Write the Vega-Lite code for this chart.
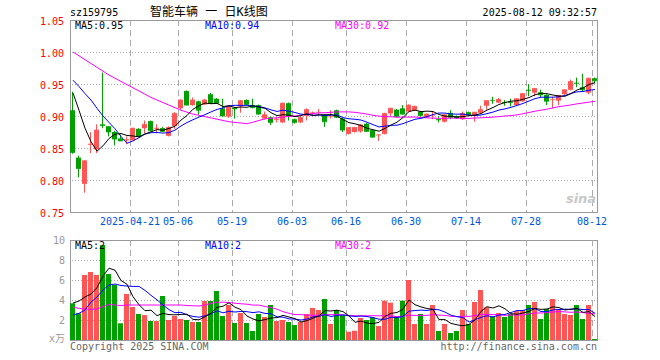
{
"$schema":"https://vega.github.io/schema/vega-lite/v6.json",
"width":528,"height":320,
"autosize":{"type":"none"},
"padding":{"left":70,"top":20,"right":62,"bottom":20},
"background":"white",
"config":{"view":{"stroke":null},"text":{"font":"DejaVu Sans Mono","fontSize":10}},
"data":{"values":[
{"d":"2025-04-07","o":0.909,"h":0.938,"l":0.841,"c":0.843,"v":3.67,"m5":0.936,"m10":0.956,"m30":1.0,"v5":3.7,"v10":2.5,"v30":3.27},
{"d":"2025-04-08","o":0.835,"h":0.838,"l":0.804,"c":0.818,"v":2.67,"m5":0.909,"m10":0.946,"m30":0.994,"v5":3.9,"v10":2.67,"v30":3.17},
{"d":"2025-04-09","o":0.794,"h":0.831,"l":0.78,"c":0.83,"v":6.5,"m5":0.881,"m10":0.935,"m30":0.988,"v5":4.3,"v10":3.0,"v30":3.08},
{"d":"2025-04-10","o":0.855,"h":0.875,"l":0.842,"c":0.856,"v":6.8,"m5":0.86,"m10":0.925,"m30":0.982,"v5":4.6,"v10":3.8,"v30":3.07},
{"d":"2025-04-11","o":0.848,"h":0.887,"l":0.842,"c":0.878,"v":6.5,"m5":0.845,"m10":0.912,"m30":0.976,"v5":5.23,"v10":4.3,"v30":3.1},
{"d":"2025-04-14","o":0.887,"h":0.968,"l":0.881,"c":0.885,"v":9.5,"m5":0.8534,"m10":0.9,"m30":0.97,"v5":6.39,"v10":5.0,"v30":3.35},
{"d":"2025-04-15","o":0.884,"h":0.884,"l":0.868,"c":0.875,"v":6.6,"m5":0.8648,"m10":0.89,"m30":0.964,"v5":7.18,"v10":5.5,"v30":3.55},
{"d":"2025-04-16","o":0.875,"h":0.877,"l":0.854,"c":0.864,"v":5.5,"m5":0.8716,"m10":0.88,"m30":0.959,"v5":6.98,"v10":5.6,"v30":3.5},
{"d":"2025-04-17","o":0.865,"h":0.871,"l":0.861,"c":0.861,"v":1.67,"m5":0.8726,"m10":0.868,"m30":0.954,"v5":5.95,"v10":5.45,"v30":3.45},
{"d":"2025-04-18","o":0.862,"h":0.868,"l":0.856,"c":0.863,"v":4.6,"m5":0.8696,"m10":0.8573,"m30":0.949,"v5":5.57,"v10":5.4,"v30":3.5},
{"d":"2025-04-21","o":0.862,"h":0.881,"l":0.862,"c":0.881,"v":3.3,"m5":0.8688,"m10":0.8611,"m30":0.944,"v5":4.33,"v10":5.36,"v30":3.5},
{"d":"2025-04-22","o":0.88,"h":0.881,"l":0.867,"c":0.868,"v":2.6,"m5":0.8674,"m10":0.8661,"m30":0.939,"v5":3.53,"v10":5.36,"v30":3.5},
{"d":"2025-04-23","o":0.881,"h":0.893,"l":0.873,"c":0.887,"v":2.5,"m5":0.872,"m10":0.8718,"m30":0.934,"v5":2.93,"v10":4.96,"v30":3.5},
{"d":"2025-04-24","o":0.892,"h":0.893,"l":0.876,"c":0.877,"v":1.9,"m5":0.8752,"m10":0.8739,"m30":0.929,"v5":2.98,"v10":4.47,"v30":3.5},
{"d":"2025-04-25","o":0.88,"h":0.887,"l":0.873,"c":0.881,"v":1.9,"m5":0.8788,"m10":0.8742,"m30":0.925,"v5":2.44,"v10":4.01,"v30":3.5},
{"d":"2025-04-28","o":0.881,"h":0.883,"l":0.875,"c":0.876,"v":4.4,"m5":0.8778,"m10":0.8733,"m30":0.921,"v5":2.66,"v10":3.5,"v30":3.5},
{"d":"2025-04-29","o":0.869,"h":0.884,"l":0.868,"c":0.882,"v":2.0,"m5":0.8806,"m10":0.874,"m30":0.917,"v5":2.54,"v10":3.04,"v30":3.5},
{"d":"2025-04-30","o":0.884,"h":0.906,"l":0.88,"c":0.904,"v":2.4,"m5":0.884,"m10":0.878,"m30":0.913,"v5":2.52,"v10":2.73,"v30":3.5},
{"d":"2025-05-06","o":0.912,"h":0.926,"l":0.91,"c":0.925,"v":2.1,"m5":0.8936,"m10":0.8844,"m30":0.909,"v5":2.56,"v10":2.77,"v30":3.5},
{"d":"2025-05-07","o":0.939,"h":0.94,"l":0.917,"c":0.917,"v":2.0,"m5":0.9008,"m10":0.8898,"m30":0.906,"v5":2.58,"v10":2.51,"v30":3.45},
{"d":"2025-05-08","o":0.917,"h":0.929,"l":0.916,"c":0.925,"v":1.8,"m5":0.9106,"m10":0.8942,"m30":0.903,"v5":2.06,"v10":2.36,"v30":3.42},
{"d":"2025-05-09","o":0.923,"h":0.924,"l":0.902,"c":0.909,"v":1.8,"m5":0.916,"m10":0.8983,"m30":0.901,"v5":2.02,"v10":2.28,"v30":3.4},
{"d":"2025-05-12","o":0.918,"h":0.927,"l":0.917,"c":0.925,"v":3.9,"m5":0.9202,"m10":0.9021,"m30":0.899,"v5":2.32,"v10":2.42,"v30":3.5},
{"d":"2025-05-13","o":0.934,"h":0.936,"l":0.919,"c":0.92,"v":3.9,"m5":0.9192,"m10":0.9064,"m30":0.897,"v5":2.68,"v10":2.62,"v30":3.65},
{"d":"2025-05-14","o":0.927,"h":0.928,"l":0.919,"c":0.92,"v":4.9,"m5":0.9198,"m10":0.9103,"m30":0.895,"v5":3.26,"v10":2.92,"v30":3.78},
{"d":"2025-05-15","o":0.912,"h":0.927,"l":0.899,"c":0.9,"v":2.4,"m5":0.9148,"m10":0.9127,"m30":0.893,"v5":3.38,"v10":2.72,"v30":3.78},
{"d":"2025-05-16","o":0.899,"h":0.916,"l":0.897,"c":0.915,"v":3.5,"m5":0.916,"m10":0.916,"m30":0.891,"v5":3.72,"v10":2.87,"v30":3.75},
{"d":"2025-05-19","o":0.913,"h":0.914,"l":0.896,"c":0.911,"v":1.7,"m5":0.9132,"m10":0.9167,"m30":0.89,"v5":3.28,"v10":2.8,"v30":3.68},
{"d":"2025-05-20","o":0.915,"h":0.925,"l":0.905,"c":0.924,"v":2.7,"m5":0.914,"m10":0.9166,"m30":0.889,"v5":3.04,"v10":2.86,"v30":3.62},
{"d":"2025-05-21","o":0.925,"h":0.926,"l":0.916,"c":0.918,"v":1.7,"m5":0.9136,"m10":0.9167,"m30":0.8879,"v5":2.4,"v10":2.83,"v30":3.58},
{"d":"2025-05-22","o":0.917,"h":0.927,"l":0.912,"c":0.913,"v":0.9,"m5":0.9162,"m10":0.9155,"m30":0.8903,"v5":2.1,"v10":2.74,"v30":3.49},
{"d":"2025-05-23","o":0.917,"h":0.918,"l":0.902,"c":0.903,"v":2.6,"m5":0.9138,"m10":0.9149,"m30":0.8931,"v5":1.92,"v10":2.82,"v30":3.49},
{"d":"2025-05-26","o":0.896,"h":0.907,"l":0.895,"c":0.902,"v":2.3,"m5":0.912,"m10":0.9126,"m30":0.8955,"v5":2.04,"v10":2.66,"v30":3.35},
{"d":"2025-05-27","o":0.898,"h":0.899,"l":0.886,"c":0.89,"v":3.5,"m5":0.9052,"m10":0.9096,"m30":0.8966,"v5":2.2,"v10":2.62,"v30":3.24},
{"d":"2025-05-28","o":0.894,"h":0.898,"l":0.89,"c":0.895,"v":1.9,"m5":0.9006,"m10":0.9071,"m30":0.8972,"v5":2.24,"v10":2.32,"v30":3.08},
{"d":"2025-05-29","o":0.89,"h":0.921,"l":0.889,"c":0.92,"v":2.0,"m5":0.902,"m10":0.9091,"m30":0.8984,"v5":2.46,"v10":2.28,"v30":2.83},
{"d":"2025-05-30","o":0.92,"h":0.921,"l":0.893,"c":0.9,"v":1.8,"m5":0.9014,"m10":0.9076,"m30":0.8992,"v5":2.3,"v10":2.11,"v30":2.67},
{"d":"2025-06-03","o":0.895,"h":0.896,"l":0.888,"c":0.89,"v":1.5,"m5":0.899,"m10":0.9055,"m30":0.9001,"v5":2.14,"v10":2.09,"v30":2.54},
{"d":"2025-06-04","o":0.89,"h":0.899,"l":0.889,"c":0.898,"v":1.8,"m5":0.9006,"m10":0.9029,"m30":0.9013,"v5":1.8,"v10":2.0,"v30":2.54},
{"d":"2025-06-05","o":0.9,"h":0.912,"l":0.893,"c":0.91,"v":2.6,"m5":0.9036,"m10":0.9021,"m30":0.9029,"v5":1.94,"v10":2.09,"v30":2.48},
{"d":"2025-06-06","o":0.904,"h":0.907,"l":0.902,"c":0.905,"v":3.2,"m5":0.9006,"m10":0.9013,"m30":0.9037,"v5":2.18,"v10":2.32,"v30":2.47},
{"d":"2025-06-09","o":0.906,"h":0.911,"l":0.902,"c":0.906,"v":3.0,"m5":0.9018,"m10":0.9016,"m30":0.9049,"v5":2.42,"v10":2.36,"v30":2.49},
{"d":"2025-06-10","o":0.902,"h":0.902,"l":0.883,"c":0.891,"v":4.1,"m5":0.902,"m10":0.9005,"m30":0.9051,"v5":2.94,"v10":2.54,"v30":2.54},
{"d":"2025-06-11","o":0.899,"h":0.909,"l":0.896,"c":0.899,"v":1.6,"m5":0.9022,"m10":0.9014,"m30":0.9058,"v5":2.9,"v10":2.35,"v30":2.53},
{"d":"2025-06-12","o":0.909,"h":0.91,"l":0.897,"c":0.898,"v":3.0,"m5":0.8998,"m10":0.9017,"m30":0.9064,"v5":2.98,"v10":2.46,"v30":2.57},
{"d":"2025-06-13","o":0.896,"h":0.897,"l":0.875,"c":0.878,"v":2.5,"m5":0.8944,"m10":0.8975,"m30":0.9064,"v5":2.84,"v10":2.51,"v30":2.5},
{"d":"2025-06-16","o":0.872,"h":0.882,"l":0.871,"c":0.882,"v":0.83,"m5":0.8896,"m10":0.8957,"m30":0.9064,"v5":2.41,"v10":2.41,"v30":2.46},
{"d":"2025-06-17","o":0.875,"h":0.883,"l":0.874,"c":0.882,"v":0.93,"m5":0.8878,"m10":0.8949,"m30":0.9057,"v5":1.77,"v10":2.36,"v30":2.42},
{"d":"2025-06-18","o":0.876,"h":0.887,"l":0.874,"c":0.886,"v":2.2,"m5":0.8852,"m10":0.8937,"m30":0.9044,"v5":1.89,"v10":2.4,"v30":2.42},
{"d":"2025-06-19","o":0.888,"h":0.889,"l":0.875,"c":0.876,"v":2.0,"m5":0.8808,"m10":0.8903,"m30":0.903,"v5":1.69,"v10":2.34,"v30":2.42},
{"d":"2025-06-20","o":0.878,"h":0.879,"l":0.866,"c":0.867,"v":2.27,"m5":0.8786,"m10":0.8865,"m30":0.9011,"v5":1.65,"v10":2.24,"v30":2.43},
{"d":"2025-06-23","o":0.87,"h":0.872,"l":0.861,"c":0.8705,"v":1.4,"m5":0.8762,"m10":0.8829,"m30":0.8998,"v5":1.76,"v10":2.08,"v30":2.42},
{"d":"2025-06-24","o":0.872,"h":0.905,"l":0.871,"c":0.904,"v":3.93,"m5":0.8806,"m10":0.8842,"m30":0.8991,"v5":2.36,"v10":2.07,"v30":2.42},
{"d":"2025-06-25","o":0.904,"h":0.913,"l":0.9,"c":0.912,"v":3.73,"m5":0.8858,"m10":0.8855,"m30":0.8988,"v5":2.67,"v10":2.28,"v30":2.42},
{"d":"2025-06-26","o":0.91,"h":0.911,"l":0.898,"c":0.899,"v":2.4,"m5":0.8904,"m10":0.8856,"m30":0.8981,"v5":2.75,"v10":2.22,"v30":2.33},
{"d":"2025-06-27","o":0.912,"h":0.917,"l":0.902,"c":0.903,"v":3.93,"m5":0.8976,"m10":0.8881,"m30":0.8982,"v5":3.08,"v10":2.36,"v30":2.38},
{"d":"2025-06-30","o":0.907,"h":0.918,"l":0.906,"c":0.917,"v":6.0,"m5":0.907,"m10":0.8916,"m30":0.8983,"v5":4.0,"v10":2.88,"v30":2.47},
{"d":"2025-07-01","o":0.909,"h":0.916,"l":0.908,"c":0.915,"v":1.6,"m5":0.9092,"m10":0.8949,"m30":0.8984,"v5":3.53,"v10":2.95,"v30":2.46},
{"d":"2025-07-02","o":0.907,"h":0.908,"l":0.899,"c":0.9005,"v":2.6,"m5":0.9068,"m10":0.8963,"m30":0.8976,"v5":3.31,"v10":2.99,"v30":2.46},
{"d":"2025-07-03","o":0.898,"h":0.904,"l":0.897,"c":0.903,"v":1.6,"m5":0.9076,"m10":0.899,"m30":0.8971,"v5":3.15,"v10":2.95,"v30":2.46},
{"d":"2025-07-04","o":0.9,"h":0.908,"l":0.895,"c":0.9005,"v":3.5,"m5":0.907,"m10":0.9023,"m30":0.8967,"v5":3.06,"v10":3.07,"v30":2.54},
{"d":"2025-07-07","o":0.895,"h":0.9,"l":0.89,"c":0.894,"v":0.9,"m5":0.9024,"m10":0.9047,"m30":0.8964,"v5":2.04,"v10":3.02,"v30":2.49},
{"d":"2025-07-08","o":0.891,"h":0.902,"l":0.89,"c":0.902,"v":1.6,"m5":0.8998,"m10":0.9045,"m30":0.8964,"v5":2.04,"v10":2.79,"v30":2.46},
{"d":"2025-07-09","o":0.905,"h":0.909,"l":0.895,"c":0.898,"v":0.7,"m5":0.8994,"m10":0.9031,"m30":0.8967,"v5":1.66,"v10":2.48,"v30":2.37},
{"d":"2025-07-10","o":0.9,"h":0.901,"l":0.896,"c":0.897,"v":0.9,"m5":0.8982,"m10":0.9029,"m30":0.8967,"v5":1.52,"v10":2.33,"v30":2.34},
{"d":"2025-07-11","o":0.895,"h":0.907,"l":0.894,"c":0.904,"v":3.0,"m5":0.899,"m10":0.903,"m30":0.8962,"v5":1.42,"v10":2.24,"v30":2.37},
{"d":"2025-07-14","o":0.906,"h":0.907,"l":0.901,"c":0.902,"v":1.6,"m5":0.9006,"m10":0.9015,"m30":0.8963,"v5":1.56,"v10":1.8,"v30":2.36},
{"d":"2025-07-15","o":0.9,"h":0.906,"l":0.891,"c":0.906,"v":3.8,"m5":0.9014,"m10":0.9006,"m30":0.8968,"v5":2.0,"v10":2.02,"v30":2.44},
{"d":"2025-07-16","o":0.905,"h":0.916,"l":0.904,"c":0.91,"v":5.0,"m5":0.9038,"m10":0.9016,"m30":0.8972,"v5":2.86,"v10":2.26,"v30":2.55},
{"d":"2025-07-17","o":0.916,"h":0.925,"l":0.91,"c":0.924,"v":3.27,"m5":0.9092,"m10":0.9037,"m30":0.8977,"v5":3.33,"v10":2.43,"v30":2.57},
{"d":"2025-07-18","o":0.925,"h":0.93,"l":0.919,"c":0.9245,"v":2.33,"m5":0.9132,"m10":0.9061,"m30":0.8983,"v5":3.2,"v10":2.31,"v30":2.54},
{"d":"2025-07-21","o":0.921,"h":0.928,"l":0.92,"c":0.926,"v":2.7,"m5":0.918,"m10":0.9093,"m30":0.899,"v5":3.42,"v10":2.49,"v30":2.53},
{"d":"2025-07-22","o":0.922,"h":0.925,"l":0.916,"c":0.921,"v":2.3,"m5":0.921,"m10":0.9112,"m30":0.9,"v5":3.12,"v10":2.56,"v30":2.47},
{"d":"2025-07-23","o":0.922,"h":0.927,"l":0.915,"c":0.921,"v":2.6,"m5":0.9232,"m10":0.9135,"m30":0.9007,"v5":2.64,"v10":2.75,"v30":2.5},
{"d":"2025-07-24","o":0.917,"h":0.927,"l":0.916,"c":0.927,"v":2.9,"m5":0.9238,"m10":0.9165,"m30":0.9017,"v5":2.57,"v10":2.95,"v30":2.5},
{"d":"2025-07-25","o":0.923,"h":0.936,"l":0.922,"c":0.935,"v":3.0,"m5":0.926,"m10":0.9196,"m30":0.9036,"v5":2.7,"v10":2.95,"v30":2.52},
{"d":"2025-07-28","o":0.941,"h":0.95,"l":0.931,"c":0.94,"v":3.5,"m5":0.9288,"m10":0.9234,"m30":0.9055,"v5":2.86,"v10":3.14,"v30":2.61},
{"d":"2025-07-29","o":0.9365,"h":0.944,"l":0.931,"c":0.943,"v":3.8,"m5":0.9332,"m10":0.9271,"m30":0.9075,"v5":3.16,"v10":3.14,"v30":2.7},
{"d":"2025-07-30","o":0.937,"h":0.941,"l":0.929,"c":0.933,"v":2.1,"m5":0.9356,"m10":0.9294,"m30":0.9091,"v5":3.06,"v10":2.85,"v30":2.7},
{"d":"2025-07-31","o":0.933,"h":0.934,"l":0.917,"c":0.923,"v":3.1,"m5":0.9348,"m10":0.9293,"m30":0.9107,"v5":3.1,"v10":2.83,"v30":2.74},
{"d":"2025-08-01","o":0.925,"h":0.93,"l":0.912,"c":0.9255,"v":4.1,"m5":0.9328,"m10":0.9294,"m30":0.9126,"v5":3.32,"v10":3.01,"v30":2.8},
{"d":"2025-08-04","o":0.924,"h":0.933,"l":0.917,"c":0.932,"v":3.1,"m5":0.9312,"m10":0.93,"m30":0.9147,"v5":3.24,"v10":3.05,"v30":2.85},
{"d":"2025-08-05","o":0.934,"h":0.941,"l":0.933,"c":0.941,"v":2.6,"m5":0.9308,"m10":0.932,"m30":0.9159,"v5":3.0,"v10":3.08,"v30":2.81},
{"d":"2025-08-06","o":0.941,"h":0.957,"l":0.94,"c":0.954,"v":2.5,"m5":0.935,"m10":0.9353,"m30":0.9173,"v5":3.08,"v10":3.07,"v30":2.77},
{"d":"2025-08-07","o":0.952,"h":0.96,"l":0.945,"c":0.951,"v":3.5,"m5":0.9406,"m10":0.9377,"m30":0.919,"v5":3.16,"v10":3.13,"v30":2.8},
{"d":"2025-08-08","o":0.945,"h":0.966,"l":0.938,"c":0.941,"v":2.1,"m5":0.9438,"m10":0.9383,"m30":0.9203,"v5":2.76,"v10":3.04,"v30":2.74},
{"d":"2025-08-11","o":0.9365,"h":0.96,"l":0.934,"c":0.959,"v":3.5,"m5":0.9492,"m10":0.9402,"m30":0.9217,"v5":2.84,"v10":3.04,"v30":2.66},
{"d":"2025-08-12","o":0.959,"h":0.96,"l":0.951,"c":0.955,"v":0.1,"m5":0.952,"m10":0.9414,"m30":0.923,"v5":2.34,"v10":2.67,"v30":2.61}
]},
"layer":[
 {"layer":[
  {"transform":[{"filter":"datum.d == '2025-04-07'"}],"mark":{"type":"rule","color":"#aaaaaa","strokeDash":[1,2],"yOffset":0.5},"encoding":{"y":{"datum":0.8,"type":"quantitative","scale":{"domain":[0.55,1.05],"zero":false,"nice":false},"axis":null}}},
  {"transform":[{"filter":"datum.d == '2025-04-07'"}],"mark":{"type":"rule","color":"#aaaaaa","strokeDash":[1,2],"yOffset":0.5},"encoding":{"y":{"datum":0.85,"type":"quantitative","scale":{"domain":[0.55,1.05],"zero":false,"nice":false},"axis":null}}},
  {"transform":[{"filter":"datum.d == '2025-04-07'"}],"mark":{"type":"rule","color":"#aaaaaa","strokeDash":[1,2],"yOffset":0.5},"encoding":{"y":{"datum":0.9,"type":"quantitative","scale":{"domain":[0.55,1.05],"zero":false,"nice":false},"axis":null}}},
  {"transform":[{"filter":"datum.d == '2025-04-07'"}],"mark":{"type":"rule","color":"#aaaaaa","strokeDash":[1,2],"yOffset":0.5},"encoding":{"y":{"datum":0.95,"type":"quantitative","scale":{"domain":[0.55,1.05],"zero":false,"nice":false},"axis":null}}},
  {"transform":[{"filter":"datum.d == '2025-04-07'"}],"mark":{"type":"rule","color":"#aaaaaa","strokeDash":[1,2],"yOffset":0.5},"encoding":{"y":{"datum":1.0,"type":"quantitative","scale":{"domain":[0.55,1.05],"zero":false,"nice":false},"axis":null}}},
  {"transform":[{"filter":"datum.d == '2025-04-07'"}],"mark":{"type":"rule","color":"#999999","yOffset":0.5},"encoding":{"y":{"datum":1.05,"type":"quantitative","scale":{"domain":[0.55,1.05],"zero":false,"nice":false},"axis":null}}},
  {"transform":[{"filter":"datum.d == '2025-04-07'"}],"mark":{"type":"rule","color":"#999999","yOffset":0.5},"encoding":{"y":{"datum":0.75,"type":"quantitative","scale":{"domain":[0.55,1.05],"zero":false,"nice":false},"axis":null}}},
  {"transform":[{"filter":{"field":"d","oneOf":["2025-04-21","2025-05-06","2025-05-19","2025-06-03","2025-06-16","2025-06-30","2025-07-14","2025-07-28","2025-08-12"]}}],
   "mark":{"type":"rule","color":"#aaaaaa","strokeDash":[6,4],"strokeWidth":1,"xOffset":0.5},
   "encoding":{"x":{"field":"d","type":"ordinal","bandPosition":0,"scale":{"type":"band","paddingInner":0,"paddingOuter":0},"axis":null},
    "y":{"datum":1.05,"type":"quantitative","scale":{"domain":[0.55,1.05],"zero":false,"nice":false},"axis":null},"y2":{"datum":0.75}}},
  {"transform":[{"filter":"datum.d == '2025-04-07'"}],
   "mark":{"type":"rule","color":"#999999","strokeWidth":1,"xOffset":0.5},
   "encoding":{"x":{"field":"d","type":"ordinal","bandPosition":0,"scale":{"type":"band","paddingInner":0,"paddingOuter":0},"axis":null},
    "y":{"datum":1.05,"type":"quantitative","scale":{"domain":[0.55,1.05],"zero":false,"nice":false},"axis":null},"y2":{"datum":0.75}}},
  {"transform":[{"filter":"datum.d == '2025-08-12'"}],
   "mark":{"type":"rule","color":"#999999","strokeWidth":1,"xOffset":-0.5},
   "encoding":{"x":{"field":"d","type":"ordinal","bandPosition":1,"scale":{"type":"band","paddingInner":0,"paddingOuter":0},"axis":null},
    "y":{"datum":1.05,"type":"quantitative","scale":{"domain":[0.55,1.05],"zero":false,"nice":false},"axis":null},"y2":{"datum":0.75}}},
  {"transform":[{"filter":"datum.d == '2025-08-07'"}],
   "mark":{"type":"text","align":"center","baseline":"middle","dx":4,"color":"#c8c8c8","font":"DejaVu Sans","fontSize":13,"fontWeight":"bold","fontStyle":"italic"},
   "encoding":{"x":{"field":"d","type":"ordinal","scale":{"type":"band","paddingInner":0,"paddingOuter":0},"axis":null},"y":{"datum":0.7703,"type":"quantitative","scale":{"domain":[0.55,1.05],"zero":false,"nice":false},"axis":null},"text":{"value":"sina"}}},
  {"mark":{"type":"rule","strokeWidth":1,"xOffset":-0.5},
   "encoding":{"x":{"field":"d","type":"ordinal","scale":{"type":"band","paddingInner":0,"paddingOuter":0},"axis":null},
    "y":{"field":"h","type":"quantitative","scale":{"domain":[0.55,1.05],"zero":false,"nice":false},"axis":null},
    "y2":{"field":"l"},
    "color":{"condition":{"test":"datum.c >= datum.o","value":"#ff5555"},"value":"#00a000"}}},
  {"mark":{"type":"bar","width":5,"xOffset":-0.5},
   "encoding":{"x":{"field":"d","type":"ordinal","scale":{"type":"band","paddingInner":0,"paddingOuter":0},"axis":null},
    "y":{"field":"o","type":"quantitative","scale":{"domain":[0.55,1.05],"zero":false,"nice":false},"axis":null},
    "y2":{"field":"c"},
    "color":{"condition":{"test":"datum.c >= datum.o","value":"#ff5555"},"value":"#00a000"}}},
  {"mark":{"type":"tick","thickness":1,"size":5,"xOffset":-0.5},
   "encoding":{"x":{"field":"d","type":"ordinal","scale":{"type":"band","paddingInner":0,"paddingOuter":0},"axis":null},
    "y":{"field":"c","type":"quantitative","scale":{"domain":[0.55,1.05],"zero":false,"nice":false},"axis":null},
    "color":{"condition":{"test":"datum.c >= datum.o","value":"#ff5555"},"value":"#00a000"}}},
  {"mark":{"type":"line","strokeWidth":1,"color":"#ff00ff"},
   "encoding":{"x":{"field":"d","type":"ordinal","scale":{"type":"band","paddingInner":0,"paddingOuter":0},"axis":null},
    "y":{"field":"m30","type":"quantitative","scale":{"domain":[0.55,1.05],"zero":false,"nice":false},"axis":null}}},
  {"mark":{"type":"line","strokeWidth":1,"color":"#0000ff"},
   "encoding":{"x":{"field":"d","type":"ordinal","scale":{"type":"band","paddingInner":0,"paddingOuter":0},"axis":null},
    "y":{"field":"m10","type":"quantitative","scale":{"domain":[0.55,1.05],"zero":false,"nice":false},"axis":null}}},
  {"mark":{"type":"line","strokeWidth":1,"color":"#000000"},
   "encoding":{"x":{"field":"d","type":"ordinal","scale":{"type":"band","paddingInner":0,"paddingOuter":0},"axis":null},
    "y":{"field":"m5","type":"quantitative","scale":{"domain":[0.55,1.05],"zero":false,"nice":false},"axis":null}}},
  {"transform":[{"filter":"datum.d == '2025-04-07'"}],
   "mark":{"type":"text","align":"left","baseline":"middle","dx":-3,"color":"#000000"},
   "encoding":{"x":{"field":"d","type":"ordinal","scale":{"type":"band","paddingInner":0,"paddingOuter":0},"axis":null},"y":{"datum":1.0614,"type":"quantitative","scale":{"domain":[0.55,1.05],"zero":false,"nice":false},"axis":null},"text":{"value":"sz159795"}}},
  {"transform":[{"filter":"datum.d == '2025-04-24'"}],
   "mark":{"type":"text","align":"left","baseline":"middle","dx":-1,"color":"#000000","font":"DejaVu Sans Mono, Noto Sans CJK SC","fontSize":12},
   "encoding":{"x":{"field":"d","type":"ordinal","scale":{"type":"band","paddingInner":0,"paddingOuter":0},"axis":null},"y":{"datum":1.0625,"type":"quantitative","scale":{"domain":[0.55,1.05],"zero":false,"nice":false},"axis":null},"text":{"value":"智能车辆 一 日K线图"}}},
  {"transform":[{"filter":"datum.d == '2025-08-12'"}],
   "mark":{"type":"text","align":"right","baseline":"middle","dx":2,"color":"#000000"},
   "encoding":{"x":{"field":"d","type":"ordinal","scale":{"type":"band","paddingInner":0,"paddingOuter":0},"axis":null},"y":{"datum":1.0614,"type":"quantitative","scale":{"domain":[0.55,1.05],"zero":false,"nice":false},"axis":null},"text":{"value":"2025-08-12 09:32:57"}}},
  {"transform":[{"filter":"datum.d == '2025-04-07'"}],
   "mark":{"type":"text","align":"left","baseline":"middle","dx":2,"color":"#000000"},
   "encoding":{"x":{"field":"d","type":"ordinal","scale":{"type":"band","paddingInner":0,"paddingOuter":0},"axis":null},"y":{"datum":1.0406,"type":"quantitative","scale":{"domain":[0.55,1.05],"zero":false,"nice":false},"axis":null},"text":{"value":"MA5:0.95"}}},
  {"transform":[{"filter":"datum.d == '2025-05-12'"}],
   "mark":{"type":"text","align":"left","baseline":"middle","dx":0,"color":"#0000ff"},
   "encoding":{"x":{"field":"d","type":"ordinal","scale":{"type":"band","paddingInner":0,"paddingOuter":0},"axis":null},"y":{"datum":1.0406,"type":"quantitative","scale":{"domain":[0.55,1.05],"zero":false,"nice":false},"axis":null},"text":{"value":"MA10:0.94"}}},
  {"transform":[{"filter":"datum.d == '2025-06-12'"}],
   "mark":{"type":"text","align":"left","baseline":"middle","dx":-2,"color":"#ff00ff"},
   "encoding":{"x":{"field":"d","type":"ordinal","scale":{"type":"band","paddingInner":0,"paddingOuter":0},"axis":null},"y":{"datum":1.0406,"type":"quantitative","scale":{"domain":[0.55,1.05],"zero":false,"nice":false},"axis":null},"text":{"value":"MA30:0.92"}}},
  {"transform":[{"filter":"datum.d == '2025-04-07'"}],"mark":{"type":"text","align":"right","baseline":"middle","dx":-9,"dy":1.5,"color":"#ff0000"},"encoding":{"x":{"field":"d","type":"ordinal","scale":{"type":"band","paddingInner":0,"paddingOuter":0},"axis":null},"y":{"datum":1.05,"type":"quantitative","scale":{"domain":[0.55,1.05],"zero":false,"nice":false},"axis":null},"text":{"value":"1.05"}}},
  {"transform":[{"filter":"datum.d == '2025-04-07'"}],"mark":{"type":"text","align":"right","baseline":"middle","dx":-9,"dy":1.5,"color":"#ff0000"},"encoding":{"x":{"field":"d","type":"ordinal","scale":{"type":"band","paddingInner":0,"paddingOuter":0},"axis":null},"y":{"datum":1.0,"type":"quantitative","scale":{"domain":[0.55,1.05],"zero":false,"nice":false},"axis":null},"text":{"value":"1.00"}}},
  {"transform":[{"filter":"datum.d == '2025-04-07'"}],"mark":{"type":"text","align":"right","baseline":"middle","dx":-9,"dy":1.5,"color":"#ff0000"},"encoding":{"x":{"field":"d","type":"ordinal","scale":{"type":"band","paddingInner":0,"paddingOuter":0},"axis":null},"y":{"datum":0.95,"type":"quantitative","scale":{"domain":[0.55,1.05],"zero":false,"nice":false},"axis":null},"text":{"value":"0.95"}}},
  {"transform":[{"filter":"datum.d == '2025-04-07'"}],"mark":{"type":"text","align":"right","baseline":"middle","dx":-9,"dy":1.5,"color":"#ff0000"},"encoding":{"x":{"field":"d","type":"ordinal","scale":{"type":"band","paddingInner":0,"paddingOuter":0},"axis":null},"y":{"datum":0.9,"type":"quantitative","scale":{"domain":[0.55,1.05],"zero":false,"nice":false},"axis":null},"text":{"value":"0.90"}}},
  {"transform":[{"filter":"datum.d == '2025-04-07'"}],"mark":{"type":"text","align":"right","baseline":"middle","dx":-9,"dy":1.5,"color":"#ff0000"},"encoding":{"x":{"field":"d","type":"ordinal","scale":{"type":"band","paddingInner":0,"paddingOuter":0},"axis":null},"y":{"datum":0.85,"type":"quantitative","scale":{"domain":[0.55,1.05],"zero":false,"nice":false},"axis":null},"text":{"value":"0.85"}}},
  {"transform":[{"filter":"datum.d == '2025-04-07'"}],"mark":{"type":"text","align":"right","baseline":"middle","dx":-9,"dy":1.5,"color":"#ff0000"},"encoding":{"x":{"field":"d","type":"ordinal","scale":{"type":"band","paddingInner":0,"paddingOuter":0},"axis":null},"y":{"datum":0.8,"type":"quantitative","scale":{"domain":[0.55,1.05],"zero":false,"nice":false},"axis":null},"text":{"value":"0.80"}}},
  {"transform":[{"filter":"datum.d == '2025-04-07'"}],"mark":{"type":"text","align":"right","baseline":"middle","dx":-9,"dy":1.5,"color":"#ff0000"},"encoding":{"x":{"field":"d","type":"ordinal","scale":{"type":"band","paddingInner":0,"paddingOuter":0},"axis":null},"y":{"datum":0.75,"type":"quantitative","scale":{"domain":[0.55,1.05],"zero":false,"nice":false},"axis":null},"text":{"value":"0.75"}}},
  {"transform":[{"filter":"datum.d == '2025-04-21'"}],"mark":{"type":"text","align":"center","baseline":"middle","color":"#0055dd"},"encoding":{"x":{"field":"d","type":"ordinal","bandPosition":0,"scale":{"type":"band","paddingInner":0,"paddingOuter":0},"axis":null},"y":{"datum":0.7344,"type":"quantitative","scale":{"domain":[0.55,1.05],"zero":false,"nice":false},"axis":null},"text":{"value":"2025-04-21"}}},
  {"transform":[{"filter":"datum.d == '2025-05-06'"}],"mark":{"type":"text","align":"center","baseline":"middle","color":"#0055dd"},"encoding":{"x":{"field":"d","type":"ordinal","bandPosition":0,"scale":{"type":"band","paddingInner":0,"paddingOuter":0},"axis":null},"y":{"datum":0.7344,"type":"quantitative","scale":{"domain":[0.55,1.05],"zero":false,"nice":false},"axis":null},"text":{"value":"05-06"}}},
  {"transform":[{"filter":"datum.d == '2025-05-19'"}],"mark":{"type":"text","align":"center","baseline":"middle","color":"#0055dd"},"encoding":{"x":{"field":"d","type":"ordinal","bandPosition":0,"scale":{"type":"band","paddingInner":0,"paddingOuter":0},"axis":null},"y":{"datum":0.7344,"type":"quantitative","scale":{"domain":[0.55,1.05],"zero":false,"nice":false},"axis":null},"text":{"value":"05-19"}}},
  {"transform":[{"filter":"datum.d == '2025-06-03'"}],"mark":{"type":"text","align":"center","baseline":"middle","color":"#0055dd"},"encoding":{"x":{"field":"d","type":"ordinal","bandPosition":0,"scale":{"type":"band","paddingInner":0,"paddingOuter":0},"axis":null},"y":{"datum":0.7344,"type":"quantitative","scale":{"domain":[0.55,1.05],"zero":false,"nice":false},"axis":null},"text":{"value":"06-03"}}},
  {"transform":[{"filter":"datum.d == '2025-06-16'"}],"mark":{"type":"text","align":"center","baseline":"middle","color":"#0055dd"},"encoding":{"x":{"field":"d","type":"ordinal","bandPosition":0,"scale":{"type":"band","paddingInner":0,"paddingOuter":0},"axis":null},"y":{"datum":0.7344,"type":"quantitative","scale":{"domain":[0.55,1.05],"zero":false,"nice":false},"axis":null},"text":{"value":"06-16"}}},
  {"transform":[{"filter":"datum.d == '2025-06-30'"}],"mark":{"type":"text","align":"center","baseline":"middle","color":"#0055dd"},"encoding":{"x":{"field":"d","type":"ordinal","bandPosition":0,"scale":{"type":"band","paddingInner":0,"paddingOuter":0},"axis":null},"y":{"datum":0.7344,"type":"quantitative","scale":{"domain":[0.55,1.05],"zero":false,"nice":false},"axis":null},"text":{"value":"06-30"}}},
  {"transform":[{"filter":"datum.d == '2025-07-14'"}],"mark":{"type":"text","align":"center","baseline":"middle","color":"#0055dd"},"encoding":{"x":{"field":"d","type":"ordinal","bandPosition":0,"scale":{"type":"band","paddingInner":0,"paddingOuter":0},"axis":null},"y":{"datum":0.7344,"type":"quantitative","scale":{"domain":[0.55,1.05],"zero":false,"nice":false},"axis":null},"text":{"value":"07-14"}}},
  {"transform":[{"filter":"datum.d == '2025-07-28'"}],"mark":{"type":"text","align":"center","baseline":"middle","color":"#0055dd"},"encoding":{"x":{"field":"d","type":"ordinal","bandPosition":0,"scale":{"type":"band","paddingInner":0,"paddingOuter":0},"axis":null},"y":{"datum":0.7344,"type":"quantitative","scale":{"domain":[0.55,1.05],"zero":false,"nice":false},"axis":null},"text":{"value":"07-28"}}},
  {"transform":[{"filter":"datum.d == '2025-08-12'"}],"mark":{"type":"text","align":"center","baseline":"middle","color":"#0055dd"},"encoding":{"x":{"field":"d","type":"ordinal","bandPosition":0,"scale":{"type":"band","paddingInner":0,"paddingOuter":0},"axis":null},"y":{"datum":0.7344,"type":"quantitative","scale":{"domain":[0.55,1.05],"zero":false,"nice":false},"axis":null},"text":{"value":"08-12"}}}
 ]},
 {"layer":[
  {"transform":[{"filter":"datum.d == '2025-04-07'"}],"mark":{"type":"rule","color":"#aaaaaa","strokeDash":[1,2],"yOffset":0.5},"encoding":{"y":{"datum":2,"type":"quantitative","scale":{"domain":[0,32],"nice":false},"axis":null}}},
  {"transform":[{"filter":"datum.d == '2025-04-07'"}],"mark":{"type":"rule","color":"#aaaaaa","strokeDash":[1,2],"yOffset":0.5},"encoding":{"y":{"datum":4,"type":"quantitative","scale":{"domain":[0,32],"nice":false},"axis":null}}},
  {"transform":[{"filter":"datum.d == '2025-04-07'"}],"mark":{"type":"rule","color":"#aaaaaa","strokeDash":[1,2],"yOffset":0.5},"encoding":{"y":{"datum":6,"type":"quantitative","scale":{"domain":[0,32],"nice":false},"axis":null}}},
  {"transform":[{"filter":"datum.d == '2025-04-07'"}],"mark":{"type":"rule","color":"#aaaaaa","strokeDash":[1,2],"yOffset":0.5},"encoding":{"y":{"datum":8,"type":"quantitative","scale":{"domain":[0,32],"nice":false},"axis":null}}},
  {"transform":[{"filter":"datum.d == '2025-04-07'"}],"mark":{"type":"rule","color":"#999999","yOffset":0.5},"encoding":{"y":{"datum":10,"type":"quantitative","scale":{"domain":[0,32],"nice":false},"axis":null}}},
  {"transform":[{"filter":"datum.d == '2025-04-07'"}],"mark":{"type":"rule","color":"#999999","yOffset":0.5},"encoding":{"y":{"datum":0,"type":"quantitative","scale":{"domain":[0,32],"nice":false},"axis":null}}},
  {"transform":[{"filter":{"field":"d","oneOf":["2025-04-21","2025-05-06","2025-05-19","2025-06-03","2025-06-16","2025-06-30","2025-07-14","2025-07-28","2025-08-12"]}}],
   "mark":{"type":"rule","color":"#aaaaaa","strokeDash":[6,4],"strokeWidth":1,"xOffset":0.5},
   "encoding":{"x":{"field":"d","type":"ordinal","bandPosition":0,"scale":{"type":"band","paddingInner":0,"paddingOuter":0},"axis":null},
    "y":{"datum":10,"type":"quantitative","scale":{"domain":[0,32],"nice":false},"axis":null},"y2":{"datum":0}}},
  {"transform":[{"filter":"datum.d == '2025-04-07'"}],
   "mark":{"type":"rule","color":"#999999","strokeWidth":1,"xOffset":0.5},
   "encoding":{"x":{"field":"d","type":"ordinal","bandPosition":0,"scale":{"type":"band","paddingInner":0,"paddingOuter":0},"axis":null},
    "y":{"datum":10,"type":"quantitative","scale":{"domain":[0,32],"nice":false},"axis":null},"y2":{"datum":0}}},
  {"transform":[{"filter":"datum.d == '2025-08-12'"}],
   "mark":{"type":"rule","color":"#999999","strokeWidth":1,"xOffset":-0.5},
   "encoding":{"x":{"field":"d","type":"ordinal","bandPosition":1,"scale":{"type":"band","paddingInner":0,"paddingOuter":0},"axis":null},
    "y":{"datum":10,"type":"quantitative","scale":{"domain":[0,32],"nice":false},"axis":null},"y2":{"datum":0}}},
  {"mark":{"type":"bar","width":5,"xOffset":-0.5},
   "encoding":{"x":{"field":"d","type":"ordinal","scale":{"type":"band","paddingInner":0,"paddingOuter":0},"axis":null},
    "y":{"field":"v","type":"quantitative","scale":{"domain":[0,32],"nice":false},"axis":null},
    "color":{"condition":{"test":"datum.c >= datum.o","value":"#ff5555"},"value":"#00a000"}}},
  {"mark":{"type":"line","strokeWidth":1,"color":"#ff00ff"},
   "encoding":{"x":{"field":"d","type":"ordinal","scale":{"type":"band","paddingInner":0,"paddingOuter":0},"axis":null},
    "y":{"field":"v30","type":"quantitative","scale":{"domain":[0,32],"nice":false},"axis":null}}},
  {"mark":{"type":"line","strokeWidth":1,"color":"#0000ff"},
   "encoding":{"x":{"field":"d","type":"ordinal","scale":{"type":"band","paddingInner":0,"paddingOuter":0},"axis":null},
    "y":{"field":"v10","type":"quantitative","scale":{"domain":[0,32],"nice":false},"axis":null}}},
  {"mark":{"type":"line","strokeWidth":1,"color":"#000000"},
   "encoding":{"x":{"field":"d","type":"ordinal","scale":{"type":"band","paddingInner":0,"paddingOuter":0},"axis":null},
    "y":{"field":"v5","type":"quantitative","scale":{"domain":[0,32],"nice":false},"axis":null}}},
  {"transform":[{"filter":"datum.d == '2025-04-07'"}],
   "mark":{"type":"text","align":"left","baseline":"middle","dx":2,"color":"#000000"},
   "encoding":{"x":{"field":"d","type":"ordinal","scale":{"type":"band","paddingInner":0,"paddingOuter":0},"axis":null},"y":{"datum":9.4,"type":"quantitative","scale":{"domain":[0,32],"nice":false},"axis":null},"text":{"value":"MA5:2"}}},
  {"transform":[{"filter":"datum.d == '2025-05-12'"}],
   "mark":{"type":"text","align":"left","baseline":"middle","dx":0,"color":"#0000ff"},
   "encoding":{"x":{"field":"d","type":"ordinal","scale":{"type":"band","paddingInner":0,"paddingOuter":0},"axis":null},"y":{"datum":9.4,"type":"quantitative","scale":{"domain":[0,32],"nice":false},"axis":null},"text":{"value":"MA10:2"}}},
  {"transform":[{"filter":"datum.d == '2025-06-12'"}],
   "mark":{"type":"text","align":"left","baseline":"middle","dx":-2,"color":"#ff00ff"},
   "encoding":{"x":{"field":"d","type":"ordinal","scale":{"type":"band","paddingInner":0,"paddingOuter":0},"axis":null},"y":{"datum":9.4,"type":"quantitative","scale":{"domain":[0,32],"nice":false},"axis":null},"text":{"value":"MA30:2"}}},
  {"transform":[{"filter":"datum.d == '2025-04-07'"}],
   "mark":{"type":"text","align":"left","baseline":"middle","dx":-3,"color":"#666666"},
   "encoding":{"x":{"field":"d","type":"ordinal","scale":{"type":"band","paddingInner":0,"paddingOuter":0},"axis":null},"y":{"datum":-0.65,"type":"quantitative","scale":{"domain":[0,32],"nice":false},"axis":null},"text":{"value":"Copyright 2025 SINA.COM"}}},
  {"transform":[{"filter":"datum.d == '2025-08-12'"}],
   "mark":{"type":"text","align":"right","baseline":"middle","dx":2,"color":"#666666"},
   "encoding":{"x":{"field":"d","type":"ordinal","scale":{"type":"band","paddingInner":0,"paddingOuter":0},"axis":null},"y":{"datum":-0.65,"type":"quantitative","scale":{"domain":[0,32],"nice":false},"axis":null},"text":{"value":"http://finance.sina.com.cn"}}},
  {"transform":[{"filter":"datum.d == '2025-04-07'"}],"mark":{"type":"text","align":"right","baseline":"middle","dx":-8,"dy":1,"color":"#999999"},"encoding":{"x":{"field":"d","type":"ordinal","scale":{"type":"band","paddingInner":0,"paddingOuter":0},"axis":null},"y":{"datum":10,"type":"quantitative","scale":{"domain":[0,32],"nice":false},"axis":null},"text":{"value":"10"}}},
  {"transform":[{"filter":"datum.d == '2025-04-07'"}],"mark":{"type":"text","align":"right","baseline":"middle","dx":-8,"dy":1,"color":"#999999"},"encoding":{"x":{"field":"d","type":"ordinal","scale":{"type":"band","paddingInner":0,"paddingOuter":0},"axis":null},"y":{"datum":8,"type":"quantitative","scale":{"domain":[0,32],"nice":false},"axis":null},"text":{"value":"8"}}},
  {"transform":[{"filter":"datum.d == '2025-04-07'"}],"mark":{"type":"text","align":"right","baseline":"middle","dx":-8,"dy":1,"color":"#999999"},"encoding":{"x":{"field":"d","type":"ordinal","scale":{"type":"band","paddingInner":0,"paddingOuter":0},"axis":null},"y":{"datum":6,"type":"quantitative","scale":{"domain":[0,32],"nice":false},"axis":null},"text":{"value":"6"}}},
  {"transform":[{"filter":"datum.d == '2025-04-07'"}],"mark":{"type":"text","align":"right","baseline":"middle","dx":-8,"dy":1,"color":"#999999"},"encoding":{"x":{"field":"d","type":"ordinal","scale":{"type":"band","paddingInner":0,"paddingOuter":0},"axis":null},"y":{"datum":4,"type":"quantitative","scale":{"domain":[0,32],"nice":false},"axis":null},"text":{"value":"4"}}},
  {"transform":[{"filter":"datum.d == '2025-04-07'"}],"mark":{"type":"text","align":"right","baseline":"middle","dx":-8,"dy":1,"color":"#999999"},"encoding":{"x":{"field":"d","type":"ordinal","scale":{"type":"band","paddingInner":0,"paddingOuter":0},"axis":null},"y":{"datum":2,"type":"quantitative","scale":{"domain":[0,32],"nice":false},"axis":null},"text":{"value":"2"}}},
  {"transform":[{"filter":"datum.d == '2025-04-07'"}],"mark":{"type":"text","align":"right","baseline":"middle","dx":-8,"dy":-1,"color":"#999999","font":"DejaVu Sans Mono, Noto Sans CJK SC"},"encoding":{"x":{"field":"d","type":"ordinal","scale":{"type":"band","paddingInner":0,"paddingOuter":0},"axis":null},"y":{"datum":0,"type":"quantitative","scale":{"domain":[0,32],"nice":false},"axis":null},"text":{"value":"x万"}}}
 ]}
],
"resolve":{"scale":{"y":"independent"}}
}
